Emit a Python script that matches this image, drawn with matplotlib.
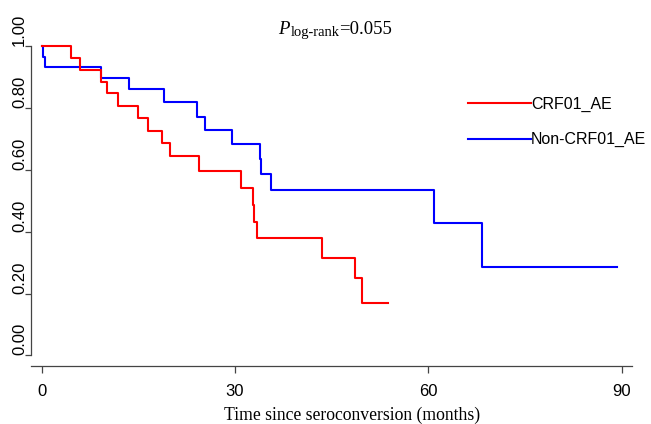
import matplotlib
matplotlib.use("Agg")
import matplotlib.pyplot as plt

# ---- data ----
crf_times = [0, 4.6, 5.9, 9.2, 10.1, 11.8, 15.0, 16.5, 18.6, 19.9, 24.4, 30.9,
             32.8, 33.0, 33.4, 43.5, 48.6, 49.7, 53.8]
crf_surv = [1.0, 0.961, 0.923, 0.884, 0.846, 0.806, 0.766, 0.726, 0.685, 0.645,
            0.595, 0.541, 0.486, 0.432, 0.378, 0.316, 0.251, 0.168, 0.168]
non_times = [0, 0.25, 0.56, 9.2, 13.6, 19.0, 24.1, 25.3, 29.5, 33.9, 34.0,
             35.6, 60.8, 68.3, 89.2]
non_surv = [1.0, 0.965, 0.93, 0.895, 0.859, 0.817, 0.770, 0.727, 0.682, 0.633,
            0.586, 0.535, 0.429, 0.285, 0.285]
series_labels = ["CRF01_AE", "Non-CRF01_AE"]
x_ticks = [0, 30, 60, 90]
y_ticks = [0.0, 0.2, 0.4, 0.6, 0.8, 1.0]
y_ticklabels = ["0.00", "0.20", "0.40", "0.60", "0.80", "1.00"]
p_value = "0.055"
xlabel = "Time since seroconversion (months)"

W, H = 651, 424
fig = plt.figure(figsize=(W / 100, H / 100), dpi=100)
ax = fig.add_axes([31 / W, 1 - 366 / H, (632 - 31) / W, (366 - 39.5) / H])

ax.step(non_times, non_surv, where="post", color="#0000ff", lw=1.5,
        label=series_labels[1], zorder=2)
ax.step(crf_times, crf_surv, where="post", color="#ff0000", lw=1.5,
        label=series_labels[0], zorder=3)

ax.set_xlim(-1.66, 91.6)
ax.set_ylim(-0.034, 1.020)

for s in ["top", "right"]:
    ax.spines[s].set_visible(False)
spc = "#444444"
ax.spines["left"].set_bounds(0, 1)
ax.spines["left"].set_color(spc)
ax.spines["bottom"].set_color(spc)
ax.spines["left"].set_linewidth(0.9)
ax.spines["bottom"].set_linewidth(0.9)

ax.set_xticks(x_ticks)
ax.set_xticklabels([str(t) for t in x_ticks], fontfamily="Liberation Sans", fontsize=12)
ax.set_yticks(y_ticks)
ax.set_yticklabels(y_ticklabels, fontfamily="Liberation Sans", fontsize=12)
ax.tick_params(axis="x", length=5, width=0.9, color=spc, pad=8)
ax.tick_params(axis="y", length=4.3, width=0.9, color=spc, pad=-1.5)
for lab in ax.get_yticklabels():
    lab.set_rotation(90)
    lab.set_va("bottom")
    lab.set_ha("right")

fig.text(352.5 / W, 1 - 419.5 / H, xlabel, ha="center", va="baseline",
         fontfamily="Liberation Serif", fontsize=12.7)

# title P_log-rank = value
renderer = fig.canvas.get_renderer()
ty = 1 - 34 / H
tP = fig.text(278.3 / W, ty, "P", fontfamily="Liberation Serif", style="italic",
              fontsize=13.5, va="baseline", ha="left")
bb = tP.get_window_extent(renderer)
tsub = fig.text(bb.x1 / W + 0.5 / W, ty - 2.4 / H, "log-rank", fontfamily="Liberation Serif",
                fontsize=10.5, va="baseline", ha="left")
bb2 = tsub.get_window_extent(renderer)
fig.text(bb2.x1 / W - 0.5 / W, ty, "=" + p_value, fontfamily="Liberation Serif",
         fontsize=13.5, va="baseline", ha="left")

leg = ax.legend(handles=[ax.lines[1], ax.lines[0]], labels=series_labels,
                loc="upper left", bbox_to_anchor=(468 / W, 1 - 97 / H),
                bbox_transform=fig.transFigure, frameon=False,
                prop={"family": "Liberation Sans", "size": 11.5},
                handlelength=3.95, handletextpad=0.0, borderpad=0, borderaxespad=0,
                labelspacing=1.25)
for line in leg.get_lines():
    line.set_linewidth(1.5)

fig.savefig("out.png", dpi=100)
